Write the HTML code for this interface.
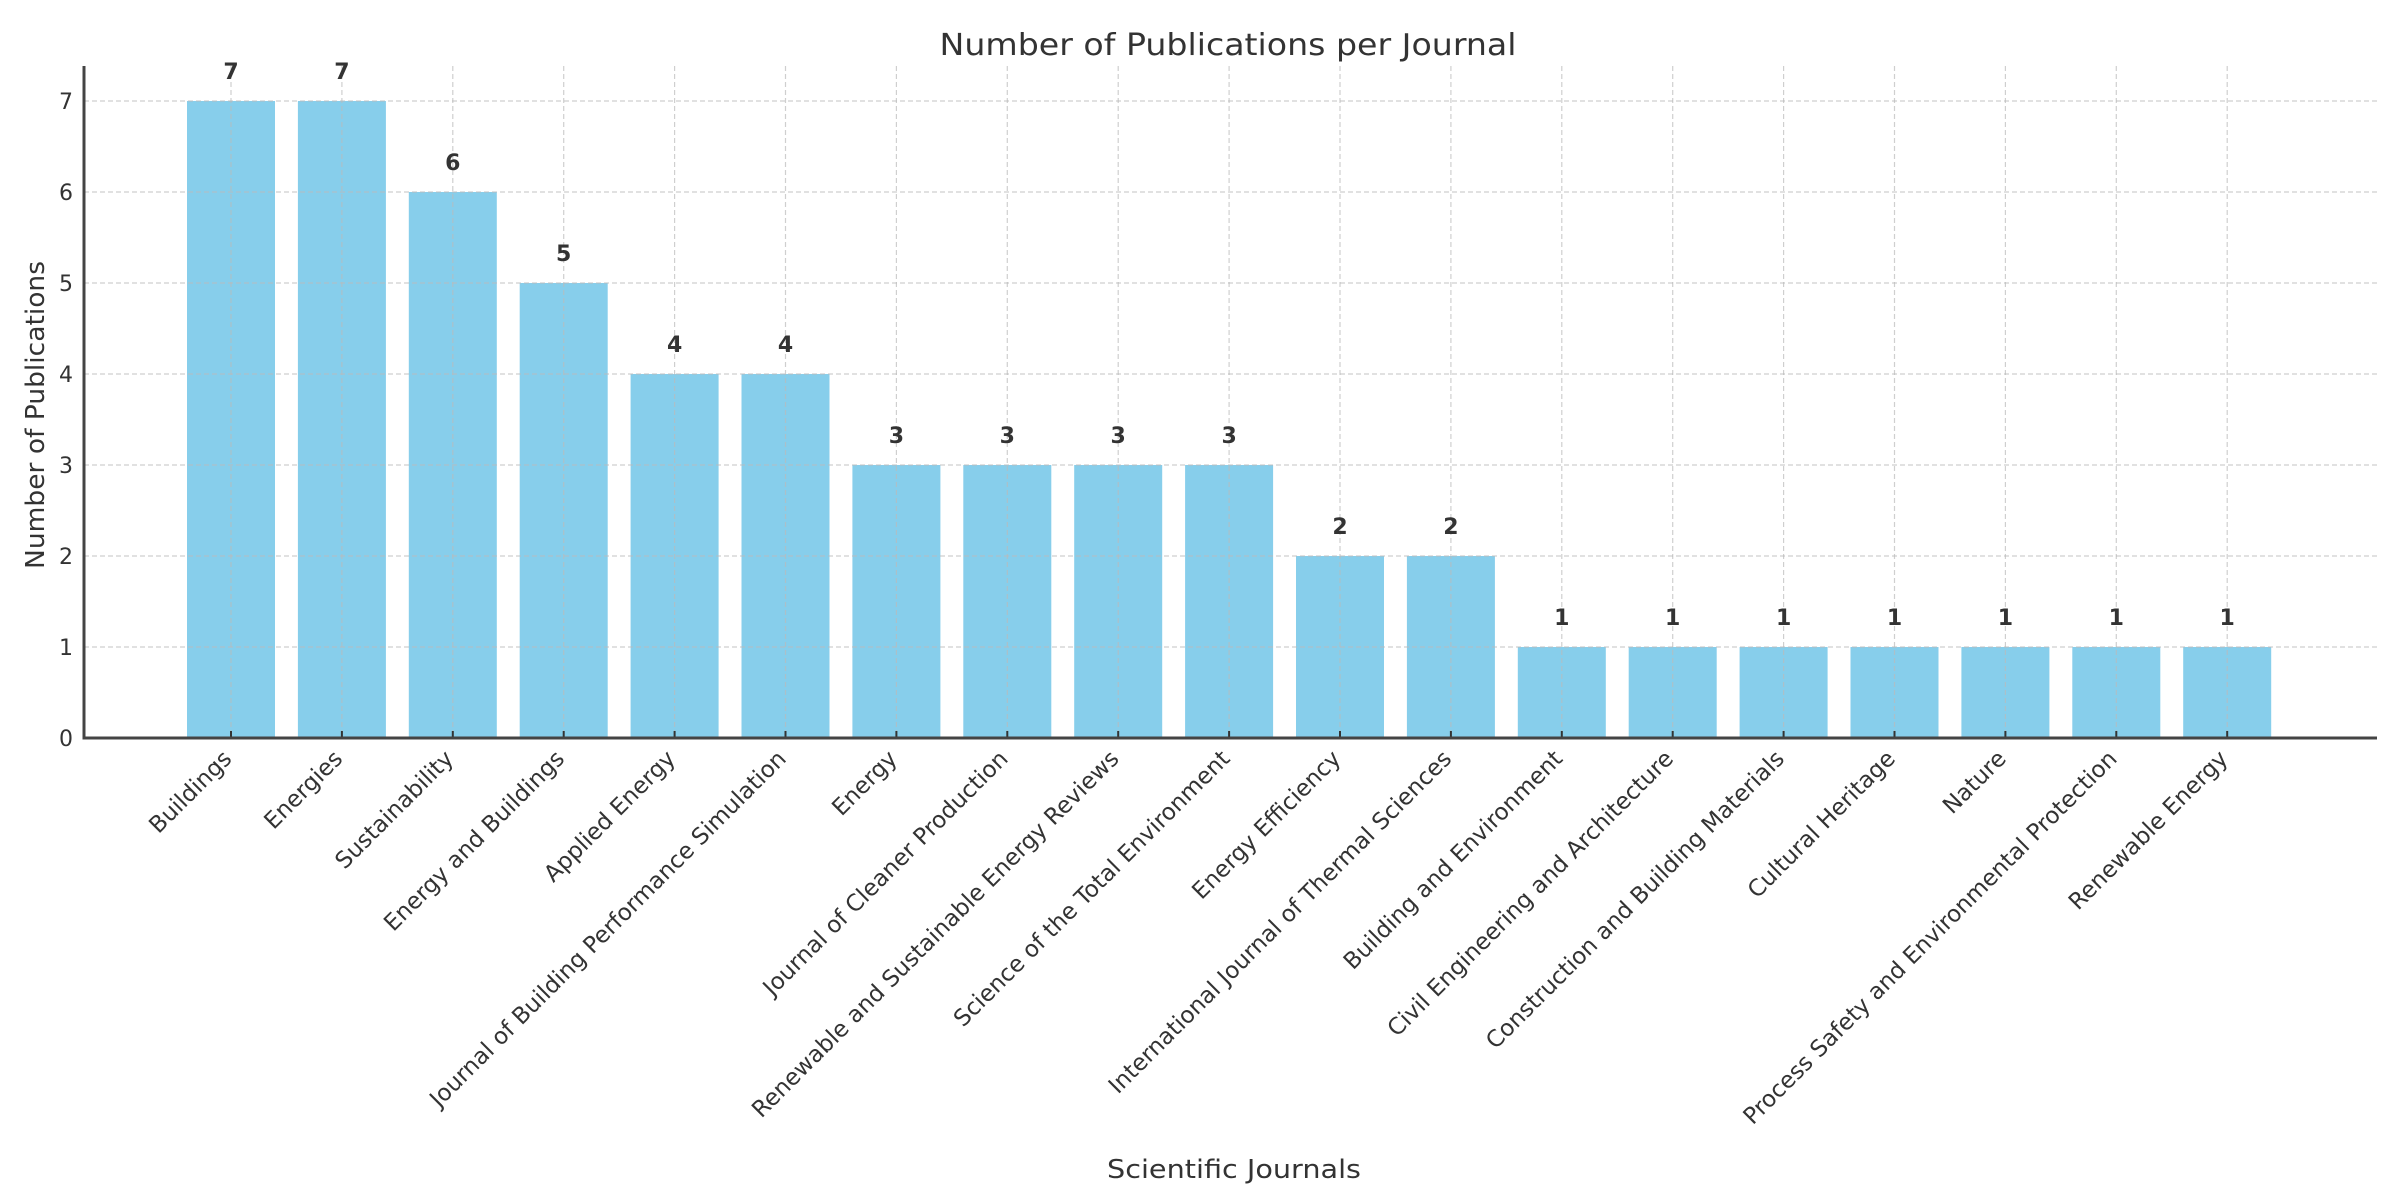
<!DOCTYPE html>
<html><head><meta charset="utf-8"><style>
html,body{margin:0;padding:0;background:#fff;}
svg{display:block;font-family:"DejaVu Sans","Liberation Sans",sans-serif;}
</style></head><body>
<svg id="chart" width="2402" height="1193" viewBox="0 0 2402 1193" xmlns="http://www.w3.org/2000/svg">
<text x="1228" y="55" font-size="30" fill="#333" text-anchor="middle" textLength="577" lengthAdjust="spacingAndGlyphs">Number of Publications per Journal</text>
<text transform="translate(44,415) rotate(-90)" font-size="26" fill="#333" text-anchor="middle" textLength="308" lengthAdjust="spacingAndGlyphs">Number of Publications</text>
<text x="1234" y="1178" font-size="26" fill="#333" text-anchor="middle" textLength="254" lengthAdjust="spacingAndGlyphs">Scientific Journals</text>
<g id="bars"></g><g id="grid"></g><g id="axes"></g><g id="labels"></g>
</svg>
<script>
const categories = ["Buildings","Energies","Sustainability","Energy and Buildings","Applied Energy","Journal of Building Performance Simulation","Energy","Journal of Cleaner Production","Renewable and Sustainable Energy Reviews","Science of the Total Environment","Energy Efficiency","International Journal of Thermal Sciences","Building and Environment","Civil Engineering and Architecture","Construction and Building Materials","Cultural Heritage","Nature","Process Safety and Environmental Protection","Renewable Energy"];
const publications = [7,7,6,5,4,4,3,3,3,3,2,2,1,1,1,1,1,1,1];
const yTicks = [0,1,2,3,4,5,6,7];

const NS="http://www.w3.org/2000/svg";
const plotL=84, plotR=2377, plotT=66, plotB=738;
const x0=231, step=110.9, barW=88;
const yScale=v=>plotB - v*(plotB-101)/7;
const xScale=i=>x0+i*step;
function mk(tag,attrs,parent){const e=document.createElementNS(NS,tag);for(const k in attrs)e.setAttribute(k,attrs[k]);parent.appendChild(e);return e;}
const gB=document.getElementById('bars'),gG=document.getElementById('grid'),gA=document.getElementById('axes'),gL=document.getElementById('labels');

publications.forEach((v,i)=>{
  const r=mk('rect',{x:xScale(i)-barW/2,y:yScale(v),width:barW,height:plotB-yScale(v),fill:'#87CEEB'},gB);
  
  
  const t=mk('text',{x:xScale(i),y:yScale(v)-22,'font-size':22,'font-weight':'bold',fill:'#333','text-anchor':'middle'},gL);
  t.textContent=v;
  
  
  const vg=mk('line',{x1:xScale(i),x2:xScale(i),y1:plotT,y2:plotB,stroke:'#bbb','stroke-width':1.2,'stroke-dasharray':'5,3',opacity:0.7},gG);
  
  
  mk('line',{x1:xScale(i),x2:xScale(i),y1:plotB,y2:plotB-7,stroke:'#333','stroke-width':2},gA);
  const lx=xScale(i)+2, ly=plotB+22;
  const tl=mk('text',{x:lx,y:ly,'font-size':23,fill:'#333','text-anchor':'end',transform:`rotate(-45 ${lx} ${ly})`},gL);
  tl.textContent=categories[i];
  
  
});
yTicks.forEach(v=>{
  const y=yScale(v);
  if(v>0){
    const hg=mk('line',{x1:plotL,x2:plotR,y1:y,y2:y,stroke:'#bbb','stroke-width':1.2,'stroke-dasharray':'5,3',opacity:0.7},gG);
    
    
  }
  const t=mk('text',{x:73,y:y+8,'font-size':22,fill:'#333','text-anchor':'end'},gL);
  t.textContent=v;
  
  
});
const ya=mk('line',{x1:plotL,x2:plotL,y1:plotT,y2:plotB+1.5,stroke:'#444','stroke-width':3},gA);


const xa=mk('line',{x1:plotL-1.5,x2:plotR,y1:plotB,y2:plotB,stroke:'#444','stroke-width':3},gA);


</script>
</body></html>
